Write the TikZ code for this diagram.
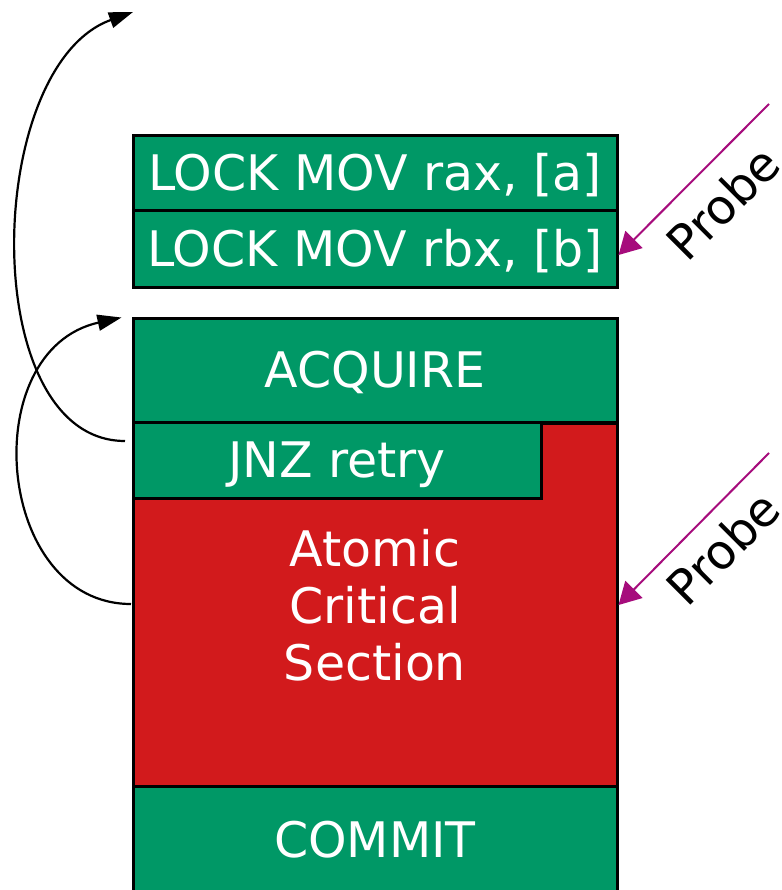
\documentclass[tikz,border=0pt]{standalone}
\usepackage{fontspec}
\setmainfont{DejaVu Sans}
\usetikzlibrary{arrows.meta}
\definecolor{grn}{RGB}{0,152,102}
\definecolor{crit}{RGB}{210,26,28}
\definecolor{probec}{RGB}{166,12,124}
\tikzset{
  blk/.style={draw=black, line width=3pt, fill=grn, text=white, inner sep=0pt,
    font=\fontsize{49}{57}\selectfont, align=center},
  oneline/.style={text height=36pt, text depth=2pt},
  redblk/.style={blk, fill=crit},
  loopback/.style={line width=2.2pt, -{Triangle[length=24pt,width=16pt]}},
  probearrow/.style={draw=probec, line width=2pt, -{Triangle[length=22pt,width=24pt]}},
  probelabel/.style={rotate=45, font=\fontsize{48}{56}\selectfont, inner sep=0pt}
}
\begin{document}
\begin{tikzpicture}[x=1pt, y=-1pt]
\useasboundingbox (0,0) rectangle (781,890);
\clip (0,0) rectangle (781,890);

% locked loads
\node[blk, oneline, minimum width=484pt, minimum height=75pt] (locka) at (375,173.5) {LOCK MOV rax, [a]};
\node[blk, oneline, minimum width=484pt, minimum height=76pt] (lockb) at (375,249) {LOCK MOV rbx, [b]};

% transaction body
\node[blk, oneline, minimum width=484pt, minimum height=104pt] (acq) at (375,370) {ACQUIRE};
\node[redblk, minimum width=484pt, minimum height=364pt] (cs) at (375,605) {Atomic\\Critical\\Section};
\node[blk, oneline, minimum width=408pt, minimum height=76pt] (jnz) at (337,460) {JNZ retry};
\node[blk, oneline, minimum width=484pt, minimum height=108pt] (commit) at (375,840) {COMMIT};

% retry / abort paths
\coordinate (jnzout) at (125,441);
\coordinate (top) at (133,12);
\coordinate (csout) at (131,604);
\coordinate (acqin) at ([xshift=-10pt,yshift=-1pt]acq.north west);
\draw[loopback] (jnzout) .. controls (-24,441) and (-17,66) .. (top);
\draw[loopback] (csout) .. controls (-5,604) and (-25,350) .. (acqin);

% probes
\coordinate (p1) at (769,104);
\coordinate (p2) at (769,453);
\draw[probearrow] (p1) -- ([yshift=-6pt]lockb.east);
\draw[probearrow] (p2) -- (cs.east);
\node[probelabel] (pl1) at (723,203) {Probe};
\node[probelabel] (pl2) at (723,548) {Probe};
\end{tikzpicture}
\end{document}
